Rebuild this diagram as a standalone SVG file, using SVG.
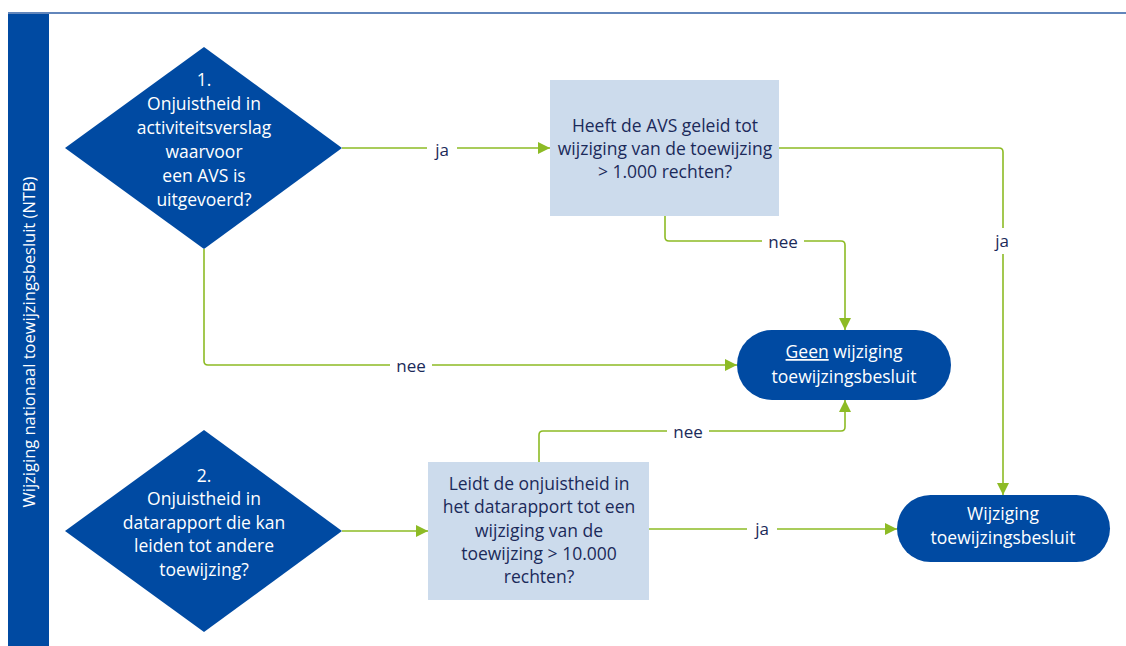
<svg xmlns="http://www.w3.org/2000/svg" width="1126" height="646" viewBox="0 0 1126 646">
<style>
.dia{fill:#004AA2}
.pill{fill:#004AA2}
.box{fill:#CCDBEC}
.wt{fill:#FFFFFF;font-family:"Open Sans","Liberation Sans",sans-serif;font-size:17.5px;text-anchor:middle}
.dt{fill:#1B2A5A;font-family:"Open Sans","Liberation Sans",sans-serif;font-size:17.5px;text-anchor:middle}
.lbl{fill:#1B2A5A;font-family:"Open Sans","Liberation Sans",sans-serif;font-size:17px;text-anchor:middle}
.con{fill:none;stroke:#8DBB25;stroke-width:1.6;marker-end:url(#ah)}
.lb{fill:#FFFFFF}
</style>
<defs>
<marker id="ah" viewBox="0 0 10 10" refX="10" refY="5" markerWidth="12" markerHeight="12" markerUnits="userSpaceOnUse" orient="auto">
<path d="M0,0 L10,5 L0,10 Z" fill="#8DBB25"/>
</marker>
</defs>
<rect width="1126" height="646" fill="#FFFFFF"/>
<line x1="8" y1="13" x2="1126" y2="13" stroke="#2E5EA5" stroke-width="1.5"/>
<g id="swimlane">
<rect x="8" y="14" width="41" height="632" fill="#004AA2"/>
<text class="wt" transform="translate(35,342) rotate(-90)" style="font-size:16.5px">Wijziging nationaal toewijzingsbesluit (NTB)</text>
</g>
<g id="connectors">
<path class="con" d="M342,148 H550"/>
<path class="con" d="M779,148 H999 Q1003,148 1003,152 V495"/>
<path class="con" d="M665,216 V237 Q665,241 669,241 H841 Q845,241 845,245 V330"/>
<path class="con" d="M204,249 V361 Q204,365 208,365 H737"/>
<path class="con" d="M539,462 V435 Q539,431 543,431 H841 Q845,431 845,427 V400"/>
<path class="con" d="M342,531 H428"/>
<path class="con" d="M649,529 H897"/>
<rect class="lb" x="427" y="138" width="30" height="24"/>
<text class="lbl" x="442" y="156">ja</text>
<rect class="lb" x="989" y="228" width="26" height="26"/>
<text class="lbl" x="1002" y="247">ja</text>
<rect class="lb" x="762" y="231" width="42" height="22"/>
<text class="lbl" x="783" y="248">nee</text>
<rect class="lb" x="390" y="355" width="42" height="22"/>
<text class="lbl" x="411" y="372">nee</text>
<rect class="lb" x="667" y="421" width="42" height="22"/>
<text class="lbl" x="688" y="438">nee</text>
<rect class="lb" x="747" y="518" width="30" height="24"/>
<text class="lbl" x="762" y="535">ja</text>
</g>
<g id="q1">
<polygon class="dia" points="204,47 342,148 204,249 65,148"/>
<text class="wt"><tspan x="204" y="86">1.</tspan><tspan x="204" y="110">Onjuistheid in</tspan><tspan x="204" y="134">activiteitsverslag</tspan><tspan x="204" y="158">waarvoor</tspan><tspan x="204" y="182">een AVS is</tspan><tspan x="204" y="206">uitgevoerd?</tspan></text>
</g>
<g id="q2">
<polygon class="dia" points="204,430 342,531 204,632 65,531"/>
<text class="wt"><tspan x="204" y="482">2.</tspan><tspan x="204" y="505">Onjuistheid in</tspan><tspan x="204" y="529">datarapport die kan</tspan><tspan x="204" y="552">leiden tot andere</tspan><tspan x="204" y="576">toewijzing?</tspan></text>
</g>
<g id="avs">
<rect class="box" x="550" y="80" width="229" height="136"/>
<text class="dt"><tspan x="665" y="132">Heeft de AVS geleid tot</tspan><tspan x="665" y="155">wijziging van de toewijzing</tspan><tspan x="665" y="178">&gt; 1.000 rechten?</tspan></text>
</g>
<g id="data">
<rect class="box" x="428" y="462" width="221" height="138"/>
<text class="dt"><tspan x="539" y="490">Leidt de onjuistheid in</tspan><tspan x="539" y="513">het datarapport tot een</tspan><tspan x="539" y="537">wijziging van de</tspan><tspan x="539" y="560">toewijzing &gt; 10.000</tspan><tspan x="539" y="583">rechten?</tspan></text>
</g>
<g id="geen">
<rect class="pill" x="737" y="330" width="214" height="70" rx="35"/>
<text class="wt"><tspan x="844" y="358"><tspan text-decoration="underline">Geen</tspan> wijziging</tspan><tspan x="844" y="383">toewijzingsbesluit</tspan></text>
</g>
<g id="wijziging">
<rect class="pill" x="897" y="495" width="213" height="67" rx="33.5"/>
<text class="wt"><tspan x="1003" y="520">Wijziging</tspan><tspan x="1003" y="544">toewijzingsbesluit</tspan></text>
</g>
</svg>
